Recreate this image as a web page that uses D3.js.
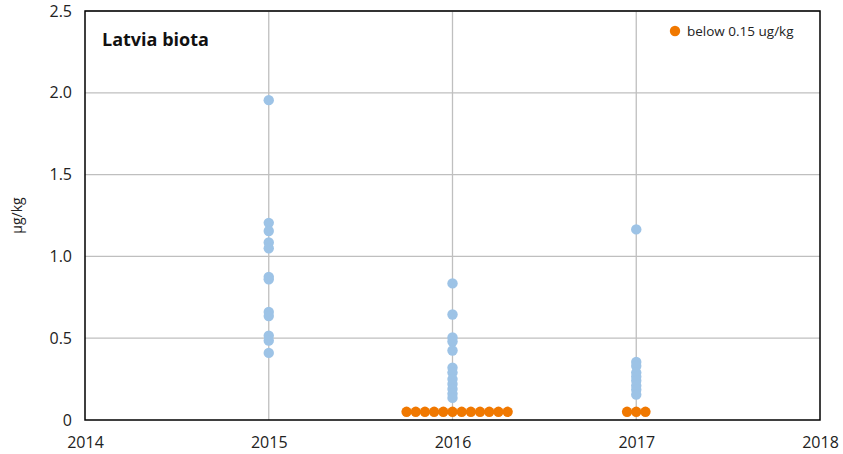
<!DOCTYPE html>
<html>
<head>
<meta charset="utf-8">
<script src="https://cdn.jsdelivr.net/npm/d3@7"></script>
<style>
  body { margin: 0; background: #fff; }
  text { font-family: "Open Sans", "DejaVu Sans", sans-serif; }
</style>
</head>
<body>
<svg id="chart"></svg>
<script>
// measured values (µg/kg) per sampling year
const years2015 = [1.955, 1.205, 1.155, 1.085, 1.05, 0.875, 0.86, 0.66, 0.635, 0.515, 0.485, 0.41];
const years2016 = [0.835, 0.645, 0.505, 0.48, 0.425, 0.32, 0.29, 0.25, 0.22, 0.19, 0.16, 0.135];
const years2017 = [1.165, 0.355, 0.33, 0.29, 0.265, 0.24, 0.21, 0.185, 0.155];

// values below detection limit (plotted at 0.05, spread around the year)
const belowX = [2015.75, 2015.8, 2015.85, 2015.9, 2015.95, 2016, 2016.05, 2016.1, 2016.15, 2016.2, 2016.25, 2016.3,
                2016.95, 2017, 2017.05];
const belowY = 0.05;

const xTicks = [2014, 2015, 2016, 2017, 2018];
const yTicks = [0, 0.5, 1.0, 1.5, 2.0, 2.5];

const width = 843, height = 454;
const margin = {top: 11, right: 23, bottom: 34, left: 85};

const svg = d3.select("#chart").attr("width", width).attr("height", height);

const x = d3.scaleLinear().domain([2014, 2018]).range([margin.left, width - margin.right]);
const y = d3.scaleLinear().domain([0, 2.5]).range([height - margin.bottom, margin.top]);

// grid
svg.append("g")
    .selectAll("line.h")
    .data(yTicks.slice(1))
    .enter().append("line")
    .attr("x1", x(2014)).attr("x2", x(2018))
    .attr("y1", d => y(d)).attr("y2", d => y(d))
    .attr("stroke", "#bfbfbf").attr("stroke-width", 1.3);

svg.append("g")
    .selectAll("line.v")
    .data(xTicks.slice(1, -1))
    .enter().append("line")
    .attr("x1", d => x(d)).attr("x2", d => x(d))
    .attr("y1", y(0)).attr("y2", y(2.5))
    .attr("stroke", "#bfbfbf").attr("stroke-width", 1.3);

// axes (labels only, frame drawn below)
const xAxis = svg.append("g")
    .attr("transform", `translate(0, ${y(0)})`)
    .call(d3.axisBottom(x).tickValues(xTicks).tickFormat(d3.format("d")).tickSize(0).tickPadding(17));
const yAxis = svg.append("g")
    .attr("transform", `translate(${x(2014)}, 0)`)
    .call(d3.axisLeft(y).tickValues(yTicks).tickFormat(d => d === 0 ? "0" : d3.format(".1f")(d)).tickSize(0).tickPadding(13));
[xAxis, yAxis].forEach(a => {
    a.select(".domain").remove();
    a.selectAll("text").attr("font-size", "16px").attr("fill", "#222")
        .attr("font-family", "'Open Sans', sans-serif");
});

// frame
svg.append("rect")
    .attr("x", x(2014)).attr("y", y(2.5))
    .attr("width", x(2018) - x(2014)).attr("height", y(0) - y(2.5))
    .attr("fill", "none").attr("stroke", "#000").attr("stroke-width", 1.5);

// points
const blue = "#9dc3e6";
const orange = "#f07800";
const series = [[2015, years2015], [2016, years2016], [2017, years2017]];
series.forEach(([yr, vals]) => {
    svg.append("g")
        .selectAll("circle")
        .data(vals).enter()
        .append("circle")
        .attr("cx", x(yr))
        .attr("cy", d => y(d))
        .attr("r", 5.2)
        .attr("fill", blue);
});

svg.append("g")
    .selectAll("circle")
    .data(belowX).enter()
    .append("circle")
    .attr("cx", d => x(d))
    .attr("cy", y(belowY))
    .attr("r", 5.2)
    .attr("fill", orange);

// title
svg.append("text")
    .attr("x", 102).attr("y", 46)
    .attr("font-size", "18px").attr("font-weight", "bold")
    .attr("fill", "#111")
    .text("Latvia biota");

// legend
svg.append("circle").attr("cx", 675).attr("cy", 31).attr("r", 5.2).attr("fill", orange);
svg.append("text")
    .attr("x", 687).attr("y", 36)
    .attr("font-size", "13.5px").attr("fill", "#222")
    .text("below 0.15 ug/kg");

// y label
svg.append("text")
    .attr("transform", `translate(22, ${y(1.25)}) rotate(-90)`)
    .attr("text-anchor", "middle")
    .attr("font-size", "14px").attr("fill", "#222")
    .text("µg/kg");
</script>
</body>
</html>
